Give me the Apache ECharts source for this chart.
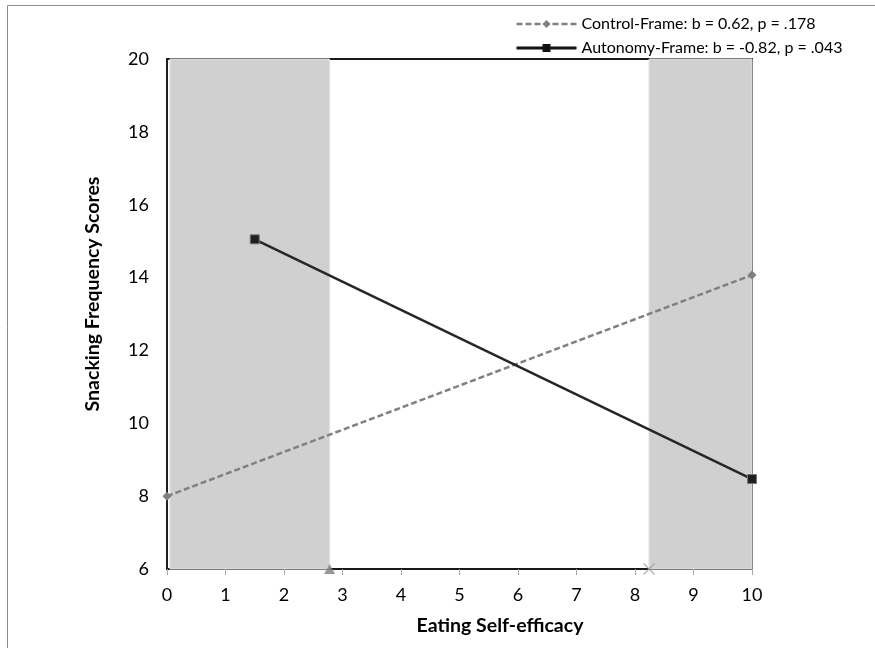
<!DOCTYPE html>
<html>
<head>
<meta charset="utf-8">
<script src="https://cdn.jsdelivr.net/npm/echarts@6/dist/echarts.min.js"></script>
<style>
html,body{margin:0;padding:0;background:#fff;}
#chart{width:875px;height:648px;}
</style>
</head>
<body>
<div id="chart"></div>
<script>
// ---- data ----
var seriesNames = ['Control-Frame: b = 0.62, p = .178', 'Autonomy-Frame: b = -0.82, p = .043'];
var controlX = [0, 10];
var controlY = [8.0, 14.07];
var autonomyX = [1.5, 10];
var autonomyY = [15.05, 8.47];
var regionLow = [0, 2.78];      // shaded region of significance (left)
var regionHigh = [8.24, 10];    // shaded region of significance (right)
var boundaryTriangle = [2.78, 6];
var boundaryCross = [8.24, 6];
var xTicks = [0, 1, 2, 3, 4, 5, 6, 7, 8, 9, 10];
var yTicks = [6, 8, 10, 12, 14, 16, 18, 20];
var xTitle = 'Eating Self-efficacy';
var yTitle = 'Snacking Frequency Scores';

function pairs(xs, ys) { return xs.map(function (x, i) { return [x, ys[i]]; }); }

var font = 'Lato, "Open Sans", sans-serif';
var chart = echarts.init(document.getElementById('chart'), null, {renderer: 'canvas'});
var crossPath = 'path://M0,0L10,10M10,0L0,10';

chart.setOption({
  animation: false,
  backgroundColor: '#fff',
  graphic: [
    {
      type: 'polyline', silent: true,
      shape: {points: [[7.5, 660], [7.5, 5.5], [880, 5.5]]},
      style: {stroke: '#8c8c8c', lineWidth: 1, fill: null}
    },
    {
      type: 'text', silent: true, x: 500, y: 626,
      style: {text: xTitle, fontFamily: font, fontSize: 19.5, fontWeight: 'bold', fill: '#000', align: 'center', verticalAlign: 'middle'}
    },
    {
      type: 'text', silent: true, x: 93, y: 294, rotation: Math.PI / 2,
      style: {text: yTitle, fontFamily: font, fontSize: 19.5, fontWeight: 'bold', fill: '#000', align: 'center', verticalAlign: 'middle'}
    }
  ],
  grid: {left: 167, right: 123, top: 59, bottom: 79, show: true, borderColor: '#1a1a1a', borderWidth: 1.8, backgroundColor: 'transparent'},
  legend: {
    orient: 'vertical', left: 510, top: 11, itemGap: 8, itemWidth: 60, itemHeight: 10,
    data: [
      {name: seriesNames[0], itemStyle: {color: '#808080', borderWidth: 0}, lineStyle: {width: 2.5, color: '#808080', type: [6, 3]}},
      {name: seriesNames[1], itemStyle: {color: '#111', borderWidth: 0}, lineStyle: {width: 3, color: '#111'}}
    ],
    textStyle: {fontFamily: font, fontSize: 16, color: '#000'}
  },
  xAxis: {
    type: 'value', min: xTicks[0], max: xTicks[xTicks.length - 1], interval: 1,
    axisLine: {show: true, onZero: false, lineStyle: {color: '#1a1a1a', width: 1.5}},
    axisTick: {show: true, inside: false, length: 6, lineStyle: {color: '#a6a6a6'}},
    axisLabel: {fontFamily: font, fontSize: 18, color: '#000', margin: 17},
    splitLine: {show: false}
  },
  yAxis: {
    type: 'value', min: yTicks[0], max: yTicks[yTicks.length - 1], interval: 2,
    axisLine: {show: true, lineStyle: {color: '#1a1a1a', width: 1.5}},
    axisTick: {show: false},
    axisLabel: {fontFamily: font, fontSize: 18, color: '#000', margin: 18},
    splitLine: {show: false}
  },
  series: [
    {
      name: 'regions', type: 'line', data: [], silent: true, legendHoverLink: false,
      markArea: {
        silent: true,
        itemStyle: {color: '#d0d0d0', borderColor: '#e0e0e0', borderWidth: 1},
        data: [
          [{xAxis: regionLow[0] + 0.05}, {xAxis: regionLow[1]}],
          [{xAxis: regionHigh[0]}, {xAxis: regionHigh[1]}]
        ]
      }
    },
    {
      name: seriesNames[0], type: 'line', data: pairs(controlX, controlY),
      symbol: 'diamond', symbolSize: 9,
      itemStyle: {color: '#808080'},
      lineStyle: {color: '#808080', width: 2.5, type: [6, 3]},
      z: 3
    },
    {
      name: seriesNames[1], type: 'line', data: pairs(autonomyX, autonomyY),
      symbol: 'rect', symbolSize: 9,
      itemStyle: {color: '#1f1f1f', borderColor: '#777', borderWidth: 1},
      lineStyle: {color: '#262626', width: 2.5},
      z: 4
    },
    {
      name: 'lowBoundary', type: 'scatter', data: [boundaryTriangle], symbol: 'triangle', symbolSize: [11, 10],
      itemStyle: {color: '#7f7f7f'}, clip: false, z: 5
    },
    {
      name: 'highBoundary', type: 'scatter', data: [boundaryCross], symbol: crossPath, symbolSize: 11,
      itemStyle: {color: 'none', borderColor: '#9a9a9a', borderWidth: 1.2}, clip: false, z: 5
    }
  ]
});
</script>
</body>
</html>
